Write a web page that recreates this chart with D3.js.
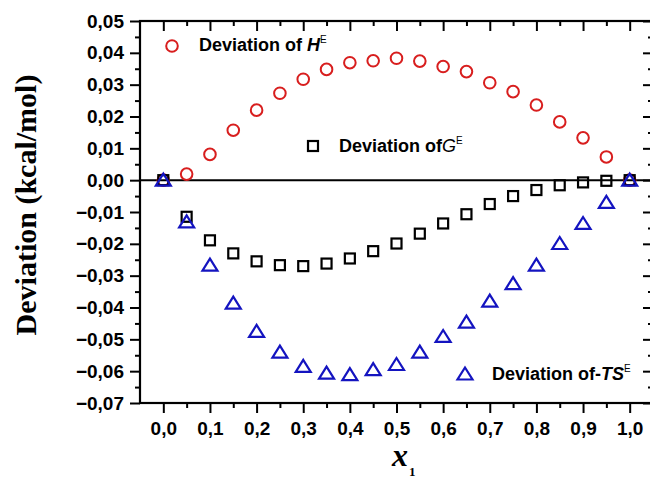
<!DOCTYPE html>
<html>
<head>
<meta charset="utf-8">
<script src="https://cdn.jsdelivr.net/npm/d3@7"></script>
<style>
  body { margin: 0; background: #fff; }
  svg { display: block; }
</style>
</head>
<body>
<div id="graph"></div>
<script>
var w = 650, h = 478

// mole fraction x1
var xVals = [0, 0.05, 0.10, 0.15, 0.20, 0.25, 0.30, 0.35, 0.40, 0.45, 0.50,
             0.55, 0.60, 0.65, 0.70, 0.75, 0.80, 0.85, 0.90, 0.95, 1.00]
// deviation of H^E (red circles)
var hE = [0, 0.0019, 0.0081, 0.0157, 0.0220, 0.0273, 0.0317, 0.0348, 0.0369, 0.0375, 0.0383,
          0.0374, 0.0357, 0.0341, 0.0306, 0.0278, 0.0236, 0.0183, 0.0133, 0.0073, 0]
// deviation of G^E (black squares)
var gE = [0, -0.0115, -0.0189, -0.0230, -0.0255, -0.0267, -0.0270, -0.0262, -0.0246, -0.0223, -0.0199,
          -0.0168, -0.0136, -0.0107, -0.0075, -0.0050, -0.0031, -0.0016, -0.0007, -0.0002, 0]
// deviation of -TS^E (blue triangles)
var tsE = [0, -0.0131, -0.0267, -0.0386, -0.0475, -0.0540, -0.0585, -0.0606, -0.0611, -0.0595, -0.0579,
           -0.0540, -0.0491, -0.0446, -0.0380, -0.0325, -0.0267, -0.0199, -0.0136, -0.0070, 0]

var xTicks = [0, 0.1, 0.2, 0.3, 0.4, 0.5, 0.6, 0.7, 0.8, 0.9, 1.0]
var xMinor = [0.05, 0.15, 0.25, 0.35, 0.45, 0.55, 0.65, 0.75, 0.85, 0.95]
var yTicks = [-0.07, -0.06, -0.05, -0.04, -0.03, -0.02, -0.01, 0, 0.01, 0.02, 0.03, 0.04, 0.05]
var yMinor = [-0.065, -0.055, -0.045, -0.035, -0.025, -0.015, -0.005, 0.005, 0.015, 0.025, 0.035, 0.045]

var red = '#d81e1e', blue = '#1414c0'

var pl = 140, pr = 653, pt = 21, pb = 403

var x = d3.scaleLinear().domain([-0.05, 1.05]).range([pl, pr])
var y = d3.scaleLinear().domain([-0.07, 0.05]).range([pb, pt])

var loc = d3.formatLocale({decimal: ',', thousands: '.', grouping: [3], currency: ['', '']})
var fx = loc.format('.1f'), fy = loc.format('.2f')

var svg = d3.select('#graph')
  .append('svg')
  .attr('width', w)
  .attr('height', h)

svg.append('rect').attr('width', w).attr('height', h).attr('fill', '#fff')

function styleAxis(g) {
  g.select('.domain').remove()
  g.selectAll('line').attr('stroke', '#000').attr('stroke-width', 2)
  g.selectAll('text')
    .attr('fill', '#000')
    .style('font-family', '"Liberation Sans", Arial, sans-serif')
    .style('font-weight', 'bold')
    .style('font-size', '19px')
}

// left axis: outward ticks with labels
svg.append('g').attr('transform', 'translate(' + pl + ',0)')
  .call(d3.axisLeft(y).tickValues(yTicks).tickFormat(fy).tickSize(10).tickPadding(6))
  .call(styleAxis)
svg.append('g').attr('transform', 'translate(' + pl + ',0)')
  .call(d3.axisLeft(y).tickValues(yMinor).tickFormat('').tickSize(5))
  .call(styleAxis)

// right axis: inward ticks
svg.append('g').attr('transform', 'translate(' + pr + ',0)')
  .call(d3.axisRight(y).tickValues(yTicks).tickFormat('').tickSize(-10))
  .call(styleAxis)
svg.append('g').attr('transform', 'translate(' + pr + ',0)')
  .call(d3.axisRight(y).tickValues(yMinor).tickFormat('').tickSize(-5))
  .call(styleAxis)

// bottom axis: outward ticks with labels
svg.append('g').attr('transform', 'translate(0,' + pb + ')')
  .call(d3.axisBottom(x).tickValues(xTicks).tickFormat(fx).tickSize(10).tickPadding(9))
  .call(styleAxis)
svg.append('g').attr('transform', 'translate(0,' + pb + ')')
  .call(d3.axisBottom(x).tickValues(xMinor).tickFormat('').tickSize(5))
  .call(styleAxis)

// top axis: inward ticks
svg.append('g').attr('transform', 'translate(0,' + pt + ')')
  .call(d3.axisTop(x).tickValues(xTicks).tickFormat('').tickSize(-10))
  .call(styleAxis)
svg.append('g').attr('transform', 'translate(0,' + pt + ')')
  .call(d3.axisTop(x).tickValues(xMinor).tickFormat('').tickSize(-5))
  .call(styleAxis)

// frame
svg.append('rect')
  .attr('x', pl).attr('y', pt)
  .attr('width', pr - pl).attr('height', pb - pt)
  .attr('fill', 'none').attr('stroke', '#000').attr('stroke-width', 2.2)

// zero line
svg.append('line')
  .attr('x1', pl).attr('x2', pr)
  .attr('y1', y(0)).attr('y2', y(0))
  .attr('stroke', '#000').attr('stroke-width', 2)

var pts = xVals.map(function(d, i) { return {x: d, h: hE[i], g: gE[i], ts: tsE[i]} })

var triPath = 'M0,-6.5 L7.5,5.5 L-7.5,5.5 Z'

svg.append('g').selectAll('circle')
  .data(pts).enter().append('circle')
  .attr('cx', function(d) { return x(d.x) })
  .attr('cy', function(d) { return y(d.h) })
  .attr('r', 5.8)
  .attr('fill', 'none').attr('stroke', red).attr('stroke-width', 2)

svg.append('g').selectAll('rect')
  .data(pts).enter().append('rect')
  .attr('x', function(d) { return x(d.x) - 5 })
  .attr('y', function(d) { return y(d.g) - 5 })
  .attr('width', 10).attr('height', 10)
  .attr('fill', 'none').attr('stroke', '#000').attr('stroke-width', 2.2)

svg.append('g').selectAll('path')
  .data(pts).enter().append('path')
  .attr('d', triPath)
  .attr('transform', function(d) { return 'translate(' + x(d.x) + ',' + y(d.ts) + ')' })
  .attr('fill', 'none').attr('stroke', blue).attr('stroke-width', 2.2)

// legends
var lfont = '"Liberation Sans", Arial, sans-serif'

svg.append('circle').attr('cx', 172).attr('cy', 46).attr('r', 5.8)
  .attr('fill', 'none').attr('stroke', red).attr('stroke-width', 2)
var t1 = svg.append('text').attr('x', 199).attr('y', 51)
  .style('font-family', lfont).style('font-size', '18px').style('font-weight', 'bold')
t1.append('tspan').text('Deviation of ')
t1.append('tspan').text('H').style('font-style', 'italic')
t1.append('tspan').text('E').attr('dy', -8).attr('dx', 0).style('font-size', '10px').style('font-weight', 'normal')

svg.append('rect').attr('x', 308).attr('y', 141).attr('width', 10).attr('height', 10)
  .attr('fill', 'none').attr('stroke', '#000').attr('stroke-width', 2.2)
var t2 = svg.append('text').attr('x', 339).attr('y', 152)
  .style('font-family', lfont).style('font-size', '18px').style('font-weight', 'bold')
t2.append('tspan').text('Deviation of')
t2.append('tspan').text('G').style('font-style', 'italic').style('font-weight', 'normal')
t2.append('tspan').text('E').attr('dy', -8).attr('dx', 0).style('font-size', '10px').style('font-weight', 'normal')

svg.append('path').attr('d', triPath).attr('transform', 'translate(465,374)')
  .attr('fill', 'none').attr('stroke', blue).attr('stroke-width', 2.2)
var t3 = svg.append('text').attr('x', 492).attr('y', 380)
  .style('font-family', lfont).style('font-size', '18px').style('font-weight', 'bold')
t3.append('tspan').text('Deviation of-')
t3.append('tspan').text('TS').style('font-style', 'italic')
t3.append('tspan').text('E').attr('dy', -8).attr('dx', 0).style('font-size', '10px').style('font-weight', 'normal')

// axis titles
svg.append('text')
  .attr('transform', 'translate(36,205) rotate(-90)')
  .attr('text-anchor', 'middle')
  .style('font-family', '"Liberation Serif", "Times New Roman", serif')
  .style('font-weight', 'bold')
  .style('font-size', '30px')
  .text('Deviation (kcal/mol)')

var xt = svg.append('text')
  .attr('x', 392).attr('y', 466)
  .style('font-family', '"Liberation Serif", "Times New Roman", serif')
  .style('font-weight', 'bold')
xt.append('tspan').text('x').style('font-style', 'italic').style('font-size', '32px')
xt.append('tspan').text('1').attr('dy', 10).attr('dx', 1).style('font-size', '13px')
</script>
</body>
</html>
